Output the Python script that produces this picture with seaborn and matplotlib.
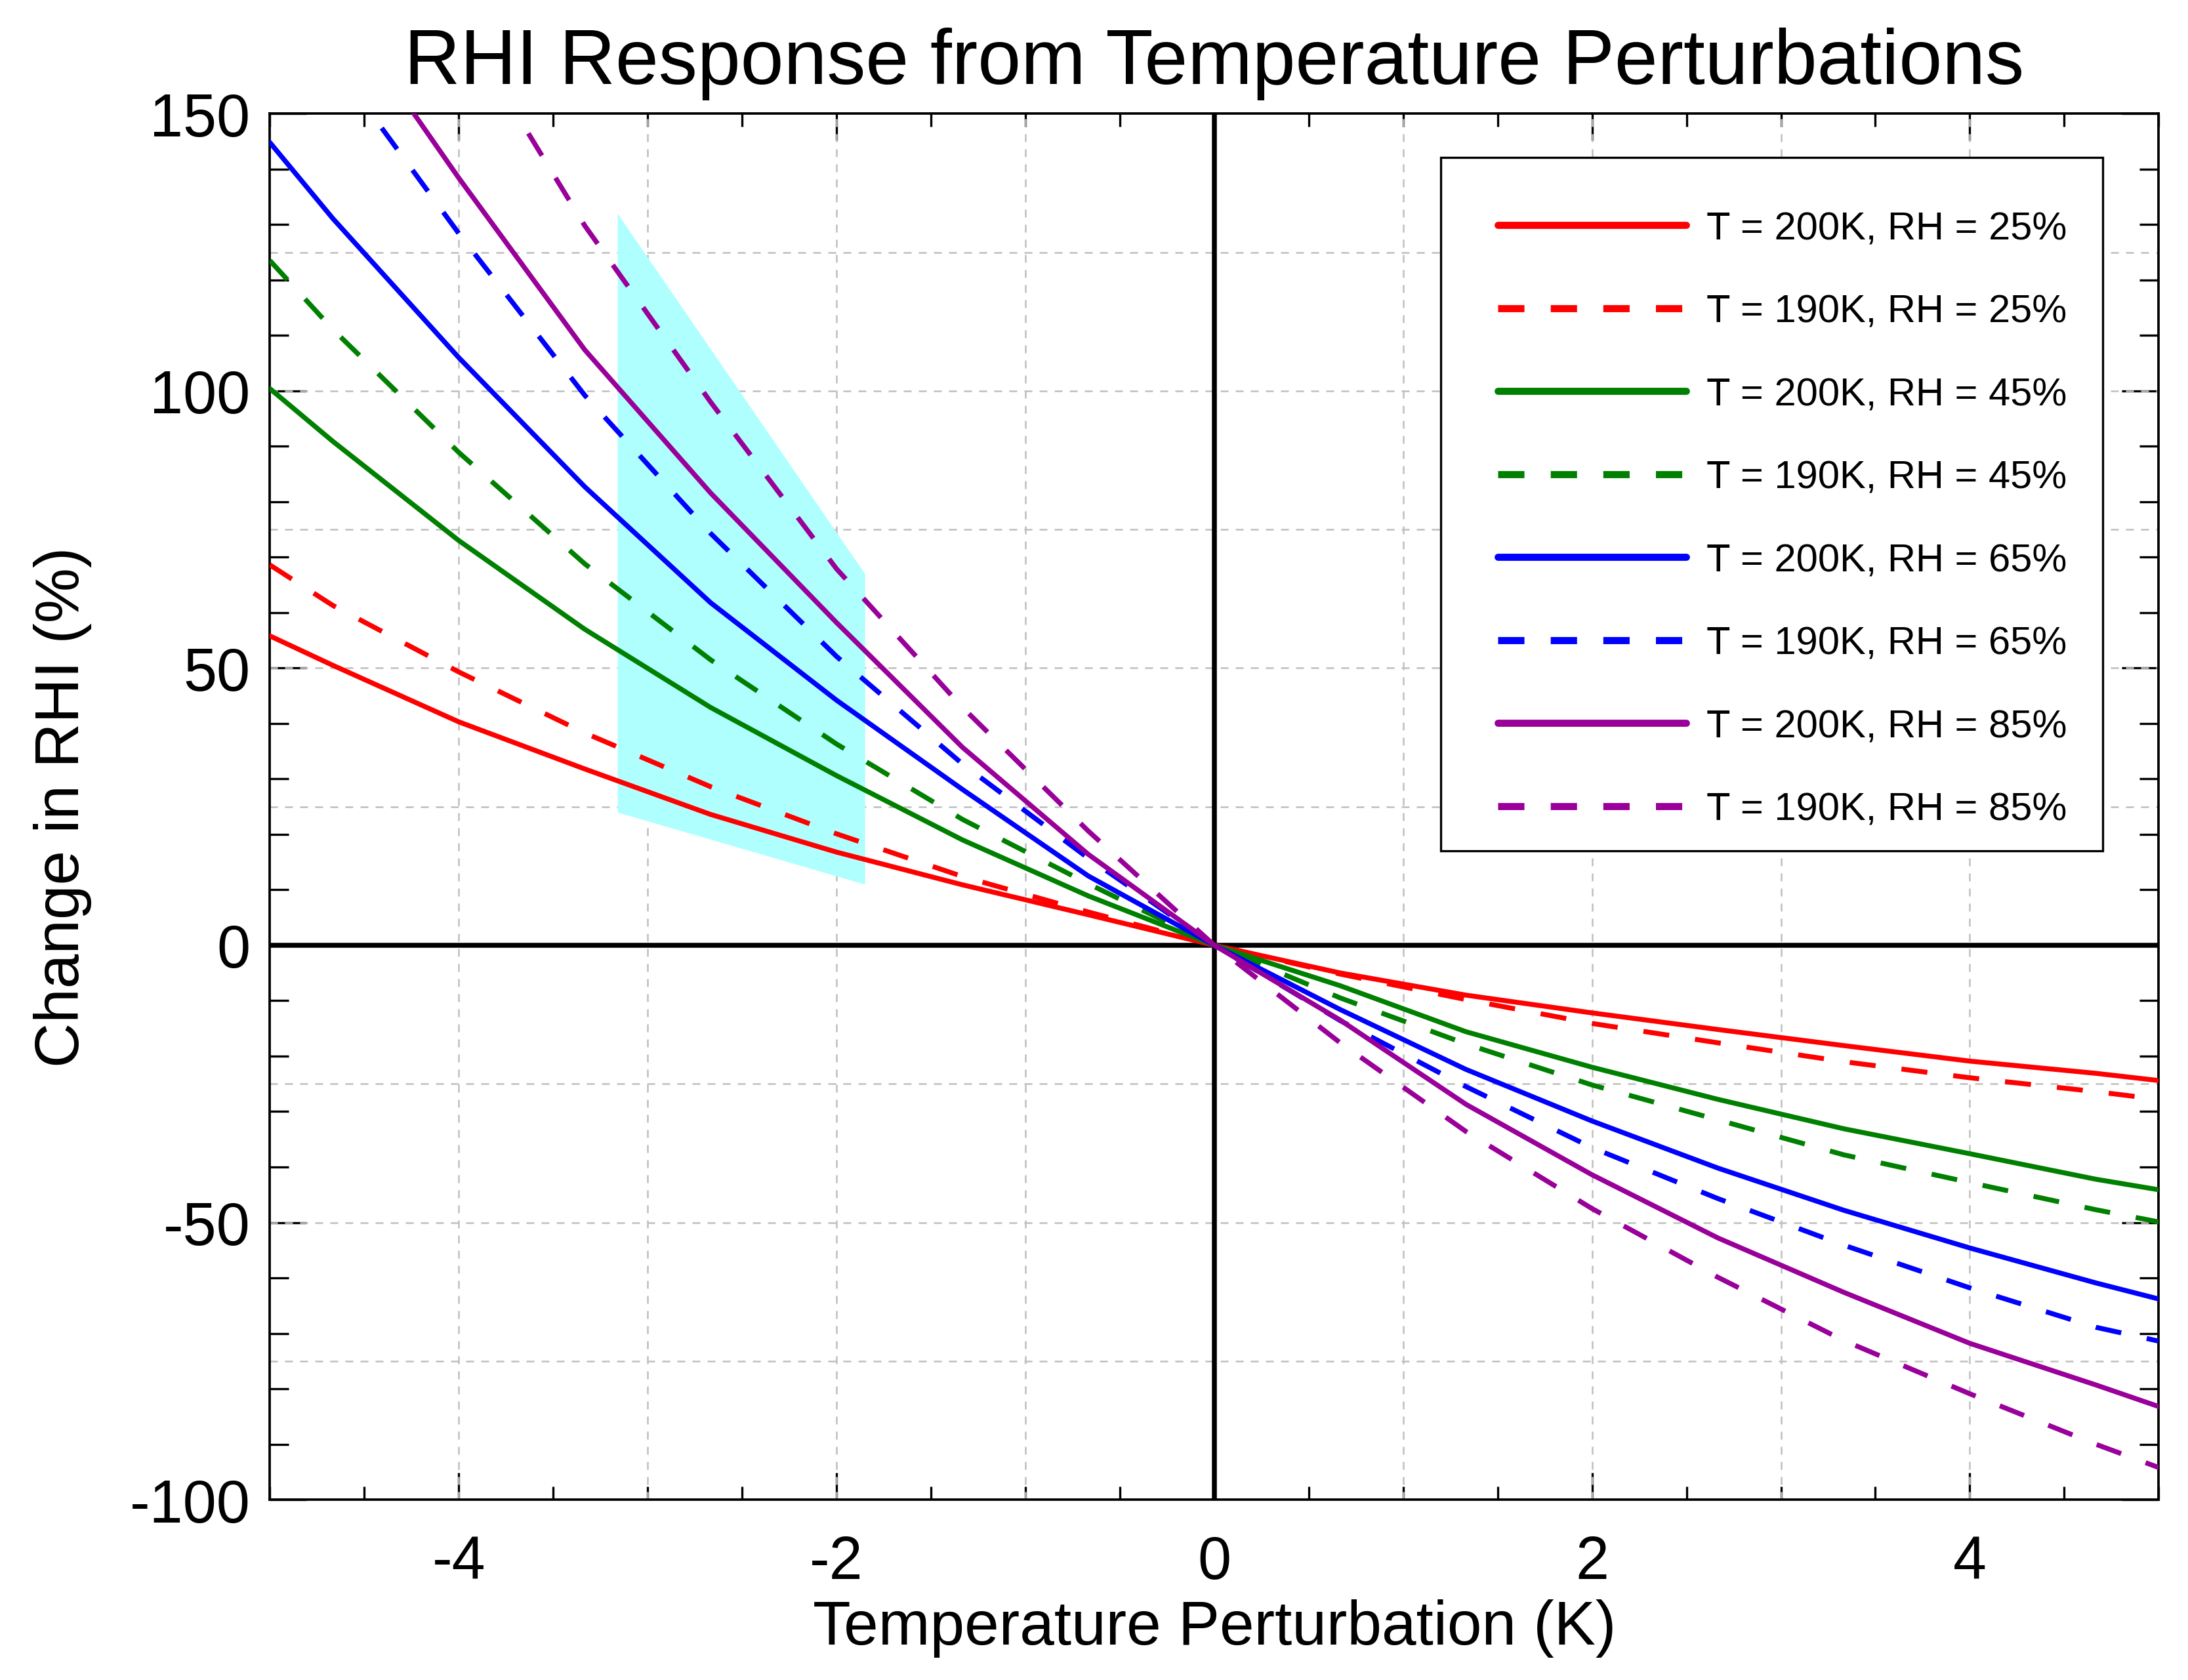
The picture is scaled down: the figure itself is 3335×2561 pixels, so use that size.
import numpy as np
import pandas as pd
import seaborn as sns
import matplotlib.pyplot as plt
from matplotlib.patches import Rectangle
from matplotlib.ticker import MultipleLocator, FixedLocator

sns.set_style('ticks')
plt.rcParams['font.family'] = ['Liberation Sans', 'DejaVu Sans']
plt.rcParams['axes.unicode_minus'] = False
plt.rcParams['text.color'] = 'black'
plt.rcParams['axes.labelcolor'] = 'black'
plt.rcParams['xtick.color'] = 'black'
plt.rcParams['ytick.color'] = 'black'

# temperature perturbation (K)
dT = [-5.0, -4.667, -4.0, -3.333, -2.667, -2.0, -1.333, -0.667, 0.0,
      0.667, 1.333, 2.0, 2.667, 3.333, 4.0, 4.667, 5.0]

# change in RHI (%)
rhi_200_25 = [55.8, 50.5, 40.3, 31.8, 23.6, 16.8, 10.9, 5.5, 0.0,
              -5.0, -9.0, -12.2, -15.2, -18.1, -20.9, -23.1, -24.4]
rhi_190_25 = [68.6, 61.3, 49.3, 38.3, 28.6, 20.1, 12.4, 6.0, 0.0,
              -5.2, -9.8, -14.1, -17.6, -21.0, -23.9, -26.4, -27.8]
rhi_200_45 = [100.4, 90.9, 73.0, 57.0, 42.9, 30.6, 19.0, 8.9, 0.0,
              -7.3, -15.6, -22.0, -27.8, -33.1, -37.6, -42.2, -44.1]
rhi_190_45 = [123.5, 111.1, 88.9, 68.8, 51.5, 36.3, 22.7, 11.1, 0.0,
              -9.5, -17.8, -25.2, -31.5, -37.8, -42.8, -47.7, -49.9]
rhi_200_65 = [144.8, 131.1, 106.0, 82.7, 61.8, 44.2, 28.1, 12.5, 0.0,
              -11.6, -22.4, -31.7, -40.2, -47.8, -54.6, -60.9, -63.8]
rhi_190_65 = [177.0, 159.5, 128.4, 99.2, 74.3, 52.1, 32.7, 15.7, 0.0,
              -13.6, -25.5, -36.5, -45.7, -54.1, -61.8, -68.9, -71.4]
rhi_200_85 = [189.0, 171.0, 138.4, 107.4, 81.6, 58.2, 35.7, 16.4, 0.0,
              -13.5, -28.7, -41.4, -52.8, -62.6, -71.8, -79.3, -83.2]
rhi_190_85 = [230.0, 208.0, 167.0, 129.8, 98.0, 67.9, 42.9, 20.6, 0.0,
              -17.6, -33.6, -47.5, -59.9, -71.3, -80.9, -90.0, -94.2]

series = [rhi_200_25, rhi_190_25, rhi_200_45, rhi_190_45,
          rhi_200_65, rhi_190_65, rhi_200_85, rhi_190_85]
labels = ['T = 200K, RH = 25%', 'T = 190K, RH = 25%',
          'T = 200K, RH = 45%', 'T = 190K, RH = 45%',
          'T = 200K, RH = 65%', 'T = 190K, RH = 65%',
          'T = 200K, RH = 85%', 'T = 190K, RH = 85%']
colors = ['#FF0000', '#FF0000', '#008000', '#008000',
          '#0000FF', '#0000FF', '#990099', '#990099']
dashed = [False, True, False, True, False, True, False, True]

# shaded region
shade_x = [-3.16, -1.85]
shade_lo = [24.0, 11.0]
shade_hi = [132.0, 67.0]

grid_x = [-4, -3, -2, -1, 1, 2, 3, 4]
grid_y = [-75, -50, -25, 25, 50, 75, 100, 125]

fig = plt.figure(figsize=(11.12, 8.54), dpi=300)
ax = fig.add_axes([0.1233, 0.1073, 0.8630, 0.8247])

for gx in grid_x:
    ax.axvline(gx, color='#BFBFBF', lw=0.6, ls=(0, (4.8, 4.4)), zorder=1)
for gy in grid_y:
    ax.axhline(gy, color='#BFBFBF', lw=0.6, ls=(0, (4.8, 4.4)), zorder=1)

ax.fill_between(shade_x, shade_lo, shade_hi, color='#AFFFFF', lw=0, zorder=1.5)

ax.axhline(0, color='black', lw=1.8, zorder=2)
ax.axvline(0, color='black', lw=1.8, zorder=2)

for y, lab, c, d in zip(series, labels, colors, dashed):
    ls = (0, (5.3, 5.3)) if d else '-'
    sns.lineplot(x=dT, y=y, color=c, linestyle=ls, lw=1.8, label=lab,
                 legend=False, ax=ax, zorder=3)

ax.set_xlim(-5, 5)
ax.set_ylim(-100, 150)
ax.xaxis.set_major_locator(FixedLocator([-4, -2, 0, 2, 4]))
ax.xaxis.set_minor_locator(MultipleLocator(0.5))
ax.yaxis.set_major_locator(MultipleLocator(50))
ax.yaxis.set_minor_locator(MultipleLocator(10))
ax.tick_params(axis='both', which='both', direction='in', top=True, right=True,
               width=0.8, color='black')
ax.tick_params(axis='x', which='major', length=9.8, pad=12.6, labelsize=22)
ax.tick_params(axis='x', which='minor', length=4.8)
ax.tick_params(axis='y', which='major', length=13.4, pad=7.2, labelsize=22)
ax.tick_params(axis='y', which='minor', length=7.0)
for s in ax.spines.values():
    s.set_linewidth(0.9)
    s.set_color('black')

ax.set_title('RHI Response from Temperature Perturbations', fontsize=28.4, pad=11)
ax.set_xlabel('Temperature Perturbation (K)', fontsize=22.7, labelpad=3)
ax.set_ylabel('Change in RHI (%)', fontsize=22.7, labelpad=13.7)

# legend box
ax.add_patch(Rectangle((0.620, 0.4683), 0.3504, 0.4999, transform=ax.transAxes,
                       facecolor='white', edgecolor='black', lw=0.8, zorder=4))
leg = ax.legend(loc='upper left', bbox_to_anchor=(0.650, 0.930),
                fontsize=14.3, handlelength=4.83, handletextpad=0.515,
                labelspacing=1.2, borderpad=0, borderaxespad=0,
                frameon=False)
leg.set_zorder(5)
for line, d in zip(leg.get_lines(), dashed):
    line.set_linewidth(2.6)
    if d:
        line.set_dashes((3.7, 3.7))

fig.savefig('out.png', dpi=300, facecolor='white')
